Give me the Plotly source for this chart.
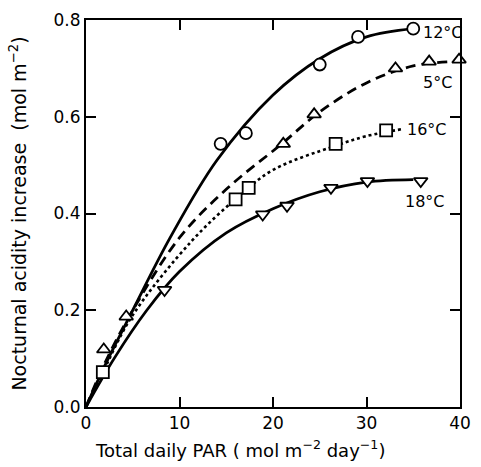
import plotly.graph_objects as go

# Measured points
x12 = [14.4, 17.1, 25.0, 29.1, 35.0]
y12 = [0.544, 0.566, 0.708, 0.765, 0.782]
x5 = [1.9, 4.3, 21.1, 24.4, 33.1, 36.7, 39.9]
y5 = [0.119, 0.187, 0.544, 0.605, 0.700, 0.714, 0.718]
x16 = [1.8, 16.0, 17.4, 26.7, 32.1]
y16 = [0.072, 0.429, 0.453, 0.544, 0.572]
x18 = [8.4, 18.9, 21.5, 26.2, 30.1, 35.8]
y18 = [0.242, 0.398, 0.416, 0.453, 0.467, 0.467]

# Fitted curves
cx12 = [0, 2, 5, 9, 14, 20, 25, 30, 35]
cy12 = [0, 0.085, 0.2, 0.35, 0.51, 0.645, 0.72, 0.765, 0.782]
cx5 = [0, 2, 5, 10, 15, 21, 25, 30, 35, 40]
cy5 = [0, 0.09, 0.2, 0.35, 0.45, 0.545, 0.61, 0.67, 0.705, 0.715]
cx16 = [0, 2, 5, 11.3, 16, 20, 26.7, 30, 34]
cy16 = [0, 0.08, 0.19, 0.343, 0.43, 0.49, 0.54, 0.56, 0.575]
cx18 = [0, 3, 6.5, 10, 15, 20, 25, 30, 35]
cy18 = [0, 0.1, 0.2, 0.28, 0.36, 0.41, 0.445, 0.465, 0.47]

labels = ["12°C", "5°C", "16°C", "18°C"]
lab_x = [38.2, 37.6, 36.5, 36.3]
lab_y = [0.775, 0.671, 0.574, 0.425]

FONT = "DejaVu Sans"

fig = go.Figure()
line_specs = [
    (cx12, cy12, "solid"),
    (cx5, cy5, "dash"),
    (cx16, cy16, "dot"),
    (cx18, cy18, "solid"),
]
for cx, cy, dash in line_specs:
    fig.add_trace(go.Scatter(x=cx, y=cy, mode="lines",
                             line=dict(color="black", width=2.8 if dash != "dot" else 2.6,
                                       dash=dash if dash != "dash" else "10px,6px",
                                       shape="spline", smoothing=1.0),
                             showlegend=False, hoverinfo="skip"))

mk = dict(color="white", size=12, line=dict(color="black", width=1.8))
for xs, ys, sym in [(x12, y12, "circle"), (x5, y5, "triangle-up"),
                    (x16, y16, "square"), (x18, y18, "triangle-down")]:
    fig.add_trace(go.Scatter(x=xs, y=ys, mode="markers",
                             marker=dict(symbol=sym, **mk), cliponaxis=False,
                             showlegend=False))

for t, lx, ly in zip(labels, lab_x, lab_y):
    fig.add_annotation(x=lx, y=ly, text=t, showarrow=False,
                       font=dict(size=16, color="black", family=FONT))

# x-axis title (slightly left of centre, as in the reference)
fig.add_annotation(xref="paper", yref="paper", x=0.413, y=-0.108,
                   text="Total daily PAR ( mol m<sup>−2</sup> day<sup>−1</sup>)",
                   showarrow=False, xanchor="center", yanchor="middle",
                   font=dict(size=18, color="black", family=FONT))

axis_common = dict(showline=True, linecolor="black", linewidth=2, mirror="allticks",
                   ticks="inside", ticklen=10, tickwidth=2, tickcolor="black",
                   showgrid=False, zeroline=False,
                   tickfont=dict(size=17, color="black", family=FONT))

fig.update_layout(
    width=481, height=467,
    margin=dict(l=86, r=10, t=17, b=60),
    plot_bgcolor="white", paper_bgcolor="white",
    xaxis=dict(range=[0, 40], tickvals=[0, 10, 20, 30, 40], **axis_common),
    yaxis=dict(range=[0, 0.8], tickvals=[0, 0.2, 0.4, 0.6, 0.8], tickformat=".1f",
               title=dict(text="Nocturnal acidity increase  (mol m<sup>−2</sup>)",
                          font=dict(size=19, color="black", family=FONT),
                          standoff=22),
               **axis_common),
)

fig.write_html("out.html")
